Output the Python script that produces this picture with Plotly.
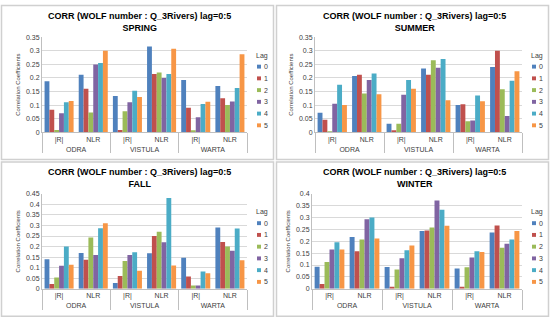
import plotly.graph_objects as go

W, H = 550, 325

rivers = ["ODRA", "VISTULA", "WARTA"]
measures = ["|R|", "NLR"]
lags = ["0", "1", "2", "3", "4", "5"]
colors = ["#4F81BD", "#C0504D", "#9BBB59", "#8064A2", "#4BACC6", "#F79646"]
seasons = ["SPRING", "SUMMER", "FALL", "WINTER"]
title_main = "CORR (WOLF number : Q_3Rivers) lag=0:5"

# rows: ODRA |R|, ODRA NLR, VISTULA |R|, VISTULA NLR, WARTA |R|, WARTA NLR ; columns: lag 0..5
spring = [
    [0.188, 0.083, 0.008, 0.070, 0.110, 0.115],
    [0.212, 0.160, 0.073, 0.250, 0.255, 0.300],
    [0.133, 0.008, 0.077, 0.110, 0.153, 0.130],
    [0.316, 0.215, 0.220, 0.200, 0.215, 0.308],
    [0.192, 0.090, 0.005, 0.055, 0.104, 0.112],
    [0.170, 0.125, 0.100, 0.113, 0.163, 0.287],
]
summer = [
    [0.072, 0.046, 0.001, 0.105, 0.175, 0.100],
    [0.207, 0.212, 0.143, 0.192, 0.216, 0.140],
    [0.031, 0.007, 0.031, 0.138, 0.192, 0.160],
    [0.235, 0.212, 0.265, 0.238, 0.270, 0.118],
    [0.100, 0.103, 0.040, 0.043, 0.135, 0.114],
    [0.240, 0.300, 0.158, 0.060, 0.190, 0.225],
]
fall = [
    [0.140, 0.022, 0.053, 0.109, 0.200, 0.114],
    [0.170, 0.137, 0.243, 0.160, 0.287, 0.310],
    [0.027, 0.060, 0.132, 0.160, 0.173, 0.085],
    [0.168, 0.250, 0.270, 0.220, 0.430, 0.110],
    [0.147, 0.058, 0.015, 0.015, 0.082, 0.073],
    [0.290, 0.222, 0.200, 0.180, 0.285, 0.135],
]
winter = [
    [0.093, 0.020, 0.113, 0.165, 0.196, 0.165],
    [0.218, 0.158, 0.207, 0.293, 0.300, 0.212],
    [0.092, 0.004, 0.081, 0.128, 0.162, 0.182],
    [0.243, 0.245, 0.258, 0.372, 0.333, 0.265],
    [0.085, 0.005, 0.091, 0.132, 0.158, 0.155],
    [0.237, 0.267, 0.173, 0.190, 0.207, 0.243],
]
season_values = [spring, summer, fall, winter]
y_max = [0.35, 0.35, 0.45, 0.40]

# panel layout in pixels: (panel_x0, panel_y0, plot_x0, plot_x1, plot_ytop, plot_ybottom, legend_x)
panels = [
    (0, 0, 42, 247, 34, 131, 255),
    (275, 0, 315, 522, 34, 131, 530),
    (0, 160, 42, 247, 194, 291, 255),
    (275, 160, 312, 522, 194, 291, 530),
]

def px(x):
    return x / W

def py(y):
    return 1 - y / H

x_cats = [[r for r in rivers for m in measures], [m for r in rivers for m in measures]]

fig = go.Figure()
layout = dict(
    width=W, height=H,
    margin=dict(l=0, r=0, t=0, b=0),
    paper_bgcolor="white", plot_bgcolor="white",
    barmode="group", bargap=0.15, bargroupgap=0,
    showlegend=False,
    font=dict(family="Liberation Sans, Arial", size=7, color="#404040"),
)
annotations = []
shapes = []

for i, (season, vals, ymax, pan) in enumerate(zip(seasons, season_values, y_max, panels)):
    ox, oy, x0, x1, yt, yb, lx = pan
    sfx = "" if i == 0 else str(i + 1)
    for j, lag in enumerate(lags):
        fig.add_trace(go.Bar(
            x=x_cats, y=[row[j] for row in vals], name=lag,
            marker=dict(color=colors[j], line=dict(width=0)),
            xaxis="x" + sfx, yaxis="y" + sfx,
            hovertemplate="%{y}<extra>Lag " + lag + "</extra>",
        ))
    layout["xaxis" + sfx] = dict(
        domain=[px(x0), px(x1)], anchor="y" + sfx, type="multicategory",
        showline=True, linecolor="#BFBFBF", linewidth=1,
        showdividers=True, dividercolor="#BFBFBF", dividerwidth=1,
        ticks="", tickfont=dict(size=7, color="#404040"),
        showgrid=False,
    )
    layout["yaxis" + sfx] = dict(
        domain=[py(yb), py(yt)], anchor="x" + sfx,
        range=[0, ymax], dtick=0.05,
        showgrid=True, gridcolor="#D9D9D9", gridwidth=1,
        showline=True, linecolor="#BFBFBF", linewidth=1,
        ticks="", tickfont=dict(size=7, color="#404040"),
        zeroline=False,
        title=dict(text="Correlation Coefficients", font=dict(size=6, color="#404040"), standoff=4),
    )
    # panel title
    annotations.append(dict(
        x=px(ox + 139), y=py(oy + 18), xref="paper", yref="paper",
        text="<b>" + title_main + "<br>" + season + "</b>",
        showarrow=False, xanchor="center", yanchor="middle",
        font=dict(size=9, color="#000000", family="Liberation Sans, Arial"),
    ))
    # legend
    annotations.append(dict(
        x=px(lx - 1), y=py(oy + 53), xref="paper", yref="paper",
        text="Lag", showarrow=False, xanchor="left", yanchor="middle",
        font=dict(size=7, color="#404040"),
    ))
    for j, lag in enumerate(lags):
        cy = oy + 64 + 12 * j
        shapes.append(dict(
            type="rect", xref="paper", yref="paper",
            x0=px(lx + 2), x1=px(lx + 6), y0=py(cy + 2), y1=py(cy - 2),
            fillcolor=colors[j], line=dict(width=0),
        ))
        annotations.append(dict(
            x=px(lx + 7), y=py(cy), xref="paper", yref="paper",
            text=lag, showarrow=False, xanchor="left", yanchor="middle",
            font=dict(size=7, color="#404040"),
        ))
    # panel border
    shapes.append(dict(
        type="rect", xref="paper", yref="paper",
        x0=px(ox + 1.5), x1=px(ox + 273.5), y0=py(oy + 1.5), y1=py(oy + 159),
        line=dict(color="#D0D0D0", width=1.5), layer="below",
    ))

layout["annotations"] = annotations
layout["shapes"] = shapes
fig.update_layout(**layout)
fig.write_html(
    "out.html",
    config={"displayModeBar": False},
    post_script="document.body.style.margin='0';document.body.style.overflow='hidden';",
)
